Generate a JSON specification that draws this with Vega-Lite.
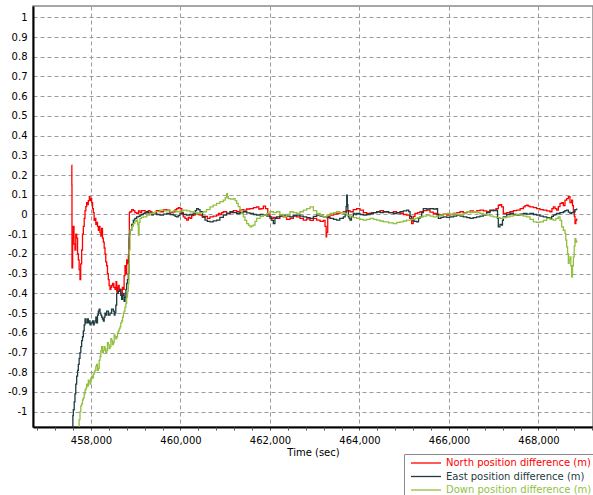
{
  "$schema": "https://vega.github.io/schema/vega-lite/v6.json",
  "width": 560,
  "height": 421,
  "autosize": {"type": "none"},
  "padding": {"left": 33, "top": 6, "right": 0, "bottom": 68},
  "background": "white",
  "view": {"stroke": "#8a8a8a", "strokeWidth": 1.5},
  "config": {"font": "DejaVu Sans", "axis": {"grid": false}},
  "datasets": {
    "rows": [
      {"s":"N","t":457568,"v":0.25},{"s":"N","t":457572,"v":0.15},{"s":"N","t":457575,"v":-0.27},{"s":"N","t":457590,"v":-0.12},{"s":"N","t":457605,"v":-0.06},{"s":"N","t":457620,"v":-0.15},{"s":"N","t":457642,"v":-0.18},{"s":"N","t":457660,"v":-0.10},{"s":"N","t":457680,"v":-0.12},{"s":"N","t":457700,"v":-0.20},{"s":"N","t":457717,"v":-0.23},{"s":"N","t":457735,"v":-0.28},{"s":"N","t":457754,"v":-0.33},{"s":"N","t":457770,"v":-0.25},{"s":"N","t":457791,"v":-0.18},{"s":"N","t":457810,"v":-0.10},{"s":"N","t":457829,"v":-0.06},{"s":"N","t":457848,"v":-0.02},{"s":"N","t":457866,"v":0.02},{"s":"N","t":457885,"v":0.04},{"s":"N","t":457903,"v":0.06},{"s":"N","t":457920,"v":0.05},{"s":"N","t":457940,"v":0.07},{"s":"N","t":457963,"v":0.09},{"s":"N","t":457978,"v":0.07},{"s":"N","t":457995,"v":0.08},{"s":"N","t":458015,"v":0.06},{"s":"N","t":458035,"v":0.03},{"s":"N","t":458052,"v":0.01},{"s":"N","t":458070,"v":-0.03},{"s":"N","t":458089,"v":-0.02},{"s":"N","t":458108,"v":-0.05},{"s":"N","t":458127,"v":-0.04},{"s":"N","t":458145,"v":-0.06},{"s":"N","t":458164,"v":-0.08},{"s":"N","t":458183,"v":-0.06},{"s":"N","t":458201,"v":-0.09},{"s":"N","t":458220,"v":-0.11},{"s":"N","t":458238,"v":-0.07},{"s":"N","t":458257,"v":-0.12},{"s":"N","t":458276,"v":-0.14},{"s":"N","t":458295,"v":-0.17},{"s":"N","t":458313,"v":-0.20},{"s":"N","t":458330,"v":-0.24},{"s":"N","t":458350,"v":-0.26},{"s":"N","t":458368,"v":-0.30},{"s":"N","t":458387,"v":-0.33},{"s":"N","t":458405,"v":-0.36},{"s":"N","t":458425,"v":-0.38},{"s":"N","t":458445,"v":-0.37},{"s":"N","t":458462,"v":-0.36},{"s":"N","t":458484,"v":-0.35},{"s":"N","t":458510,"v":-0.37},{"s":"N","t":458536,"v":-0.38},{"s":"N","t":458560,"v":-0.34},{"s":"N","t":458575,"v":-0.39},{"s":"N","t":458588,"v":-0.40},{"s":"N","t":458600,"v":-0.37},{"s":"N","t":458611,"v":-0.36},{"s":"N","t":458630,"v":-0.39},{"s":"N","t":458648,"v":-0.38},{"s":"N","t":458665,"v":-0.40},{"s":"N","t":458685,"v":-0.42},{"s":"N","t":458700,"v":-0.37},{"s":"N","t":458723,"v":-0.38},{"s":"N","t":458740,"v":-0.31},{"s":"N","t":458760,"v":-0.26},{"s":"N","t":458780,"v":-0.30},{"s":"N","t":458797,"v":-0.23},{"s":"N","t":458815,"v":-0.25},{"s":"N","t":458834,"v":-0.21},{"s":"N","t":458850,"v":-0.12},{"s":"N","t":458857,"v":0.01},{"s":"N","t":458872,"v":0.014},{"s":"N","t":458910,"v":0.025},{"s":"N","t":458946,"v":0.02},{"s":"N","t":458980,"v":0.01},{"s":"N","t":459021,"v":0.005},{"s":"N","t":459060,"v":0.018},{"s":"N","t":459095,"v":0.01},{"s":"N","t":459130,"v":0.02},{"s":"N","t":459170,"v":0.02},{"s":"N","t":459210,"v":0.008},{"s":"N","t":459244,"v":0.01},{"s":"N","t":459280,"v":0.02},{"s":"N","t":459319,"v":0.014},{"s":"N","t":459360,"v":0.0},{"s":"N","t":459393,"v":0.005},{"s":"N","t":459460,"v":0.02},{"s":"N","t":459542,"v":0.014},{"s":"N","t":459620,"v":0.025},{"s":"N","t":459691,"v":0.022},{"s":"N","t":459760,"v":0.01},{"s":"N","t":459840,"v":0.014},{"s":"N","t":459880,"v":0.025},{"s":"N","t":459915,"v":0.03},{"s":"N","t":459950,"v":0.035},{"s":"N","t":459989,"v":0.03},{"s":"N","t":460030,"v":0.01},{"s":"N","t":460063,"v":-0.012},{"s":"N","t":460100,"v":-0.02},{"s":"N","t":460138,"v":-0.029},{"s":"N","t":460175,"v":-0.015},{"s":"N","t":460212,"v":-0.02},{"s":"N","t":460250,"v":-0.005},{"s":"N","t":460287,"v":-0.003},{"s":"N","t":460325,"v":0.01},{"s":"N","t":460361,"v":0.005},{"s":"N","t":460400,"v":0.0},{"s":"N","t":460436,"v":-0.003},{"s":"N","t":460490,"v":-0.015},{"s":"N","t":460548,"v":-0.01},{"s":"N","t":460600,"v":-0.02},{"s":"N","t":460659,"v":-0.012},{"s":"N","t":460730,"v":-0.008},{"s":"N","t":460808,"v":-0.003},{"s":"N","t":460850,"v":0.005},{"s":"N","t":460883,"v":0.0},{"s":"N","t":460920,"v":0.01},{"s":"N","t":460957,"v":0.014},{"s":"N","t":461030,"v":0.005},{"s":"N","t":461106,"v":0.01},{"s":"N","t":461180,"v":0.02},{"s":"N","t":461255,"v":0.014},{"s":"N","t":461330,"v":0.025},{"s":"N","t":461404,"v":0.022},{"s":"N","t":461480,"v":0.028},{"s":"N","t":461553,"v":0.03},{"s":"N","t":461630,"v":0.035},{"s":"N","t":461702,"v":0.039},{"s":"N","t":461750,"v":0.028},{"s":"N","t":461800,"v":0.03},{"s":"N","t":461851,"v":0.042},{"s":"N","t":461900,"v":0.03},{"s":"N","t":461950,"v":0.0},{"s":"N","t":462000,"v":-0.02},{"s":"N","t":462075,"v":-0.015},{"s":"N","t":462149,"v":-0.02},{"s":"N","t":462220,"v":-0.008},{"s":"N","t":462298,"v":-0.012},{"s":"N","t":462370,"v":-0.025},{"s":"N","t":462447,"v":-0.02},{"s":"N","t":462520,"v":-0.008},{"s":"N","t":462596,"v":-0.012},{"s":"N","t":462670,"v":-0.02},{"s":"N","t":462745,"v":-0.029},{"s":"N","t":462820,"v":-0.022},{"s":"N","t":462894,"v":-0.03},{"s":"N","t":462970,"v":-0.02},{"s":"N","t":463043,"v":-0.029},{"s":"N","t":463120,"v":-0.035},{"s":"N","t":463192,"v":-0.03},{"s":"N","t":463230,"v":-0.06},{"s":"N","t":463255,"v":-0.113},{"s":"N","t":463266,"v":-0.09},{"s":"N","t":463290,"v":-0.01},{"s":"N","t":463341,"v":-0.003},{"s":"N","t":463420,"v":0.002},{"s":"N","t":463490,"v":0.005},{"s":"N","t":463560,"v":0.01},{"s":"N","t":463639,"v":0.014},{"s":"N","t":463710,"v":0.02},{"s":"N","t":463788,"v":0.014},{"s":"N","t":463860,"v":0.025},{"s":"N","t":463937,"v":0.03},{"s":"N","t":464011,"v":0.022},{"s":"N","t":464086,"v":0.01},{"s":"N","t":464160,"v":0.005},{"s":"N","t":464270,"v":0.01},{"s":"N","t":464384,"v":0.014},{"s":"N","t":464460,"v":0.02},{"s":"N","t":464533,"v":0.014},{"s":"N","t":464650,"v":0.01},{"s":"N","t":464756,"v":0.014},{"s":"N","t":464830,"v":0.008},{"s":"N","t":464905,"v":0.005},{"s":"N","t":464980,"v":0.0},{"s":"N","t":465054,"v":-0.003},{"s":"N","t":465120,"v":-0.02},{"s":"N","t":465166,"v":-0.046},{"s":"N","t":465200,"v":-0.01},{"s":"N","t":465240,"v":0.005},{"s":"N","t":465300,"v":0.01},{"s":"N","t":465352,"v":0.014},{"s":"N","t":465430,"v":0.02},{"s":"N","t":465501,"v":0.022},{"s":"N","t":465575,"v":0.012},{"s":"N","t":465650,"v":0.005},{"s":"N","t":465720,"v":0.0},{"s":"N","t":465799,"v":-0.003},{"s":"N","t":465870,"v":0.002},{"s":"N","t":465948,"v":-0.003},{"s":"N","t":466020,"v":0.0},{"s":"N","t":466097,"v":0.005},{"s":"N","t":466170,"v":0.01},{"s":"N","t":466246,"v":0.014},{"s":"N","t":466320,"v":0.008},{"s":"N","t":466395,"v":0.014},{"s":"N","t":466470,"v":0.018},{"s":"N","t":466544,"v":0.014},{"s":"N","t":466620,"v":0.02},{"s":"N","t":466693,"v":0.022},{"s":"N","t":466770,"v":0.018},{"s":"N","t":466842,"v":0.014},{"s":"N","t":466916,"v":0.02},{"s":"N","t":466991,"v":0.022},{"s":"N","t":467050,"v":0.03},{"s":"N","t":467102,"v":0.047},{"s":"N","t":467140,"v":0.05},{"s":"N","t":467177,"v":0.039},{"s":"N","t":467214,"v":0.005},{"s":"N","t":467290,"v":0.01},{"s":"N","t":467363,"v":0.014},{"s":"N","t":467440,"v":0.02},{"s":"N","t":467512,"v":0.022},{"s":"N","t":467590,"v":0.03},{"s":"N","t":467661,"v":0.039},{"s":"N","t":467700,"v":0.045},{"s":"N","t":467736,"v":0.047},{"s":"N","t":467770,"v":0.042},{"s":"N","t":467810,"v":0.039},{"s":"N","t":467885,"v":0.035},{"s":"N","t":467959,"v":0.03},{"s":"N","t":468034,"v":0.025},{"s":"N","t":468108,"v":0.022},{"s":"N","t":468183,"v":0.018},{"s":"N","t":468257,"v":0.014},{"s":"N","t":468300,"v":0.03},{"s":"N","t":468332,"v":0.039},{"s":"N","t":468370,"v":0.03},{"s":"N","t":468406,"v":0.022},{"s":"N","t":468443,"v":0.04},{"s":"N","t":468481,"v":0.056},{"s":"N","t":468520,"v":0.06},{"s":"N","t":468555,"v":0.045},{"s":"N","t":468592,"v":0.073},{"s":"N","t":468630,"v":0.08},{"s":"N","t":468667,"v":0.09},{"s":"N","t":468704,"v":0.06},{"s":"N","t":468741,"v":0.073},{"s":"N","t":468760,"v":0.045},{"s":"N","t":468779,"v":0.022},{"s":"N","t":468800,"v":-0.01},{"s":"N","t":468816,"v":-0.046},{"s":"N","t":468835,"v":-0.03},{"s":"N","t":468853,"v":-0.02},
      {"s":"E","t":457583,"v":-1.12},{"s":"E","t":457595,"v":-1.02},{"s":"E","t":457605,"v":-0.99},{"s":"E","t":457625,"v":-0.95},{"s":"E","t":457642,"v":-0.91},{"s":"E","t":457660,"v":-0.86},{"s":"E","t":457680,"v":-0.82},{"s":"E","t":457700,"v":-0.79},{"s":"E","t":457717,"v":-0.76},{"s":"E","t":457735,"v":-0.73},{"s":"E","t":457754,"v":-0.70},{"s":"E","t":457772,"v":-0.67},{"s":"E","t":457791,"v":-0.64},{"s":"E","t":457810,"v":-0.62},{"s":"E","t":457829,"v":-0.59},{"s":"E","t":457848,"v":-0.56},{"s":"E","t":457866,"v":-0.53},{"s":"E","t":457885,"v":-0.55},{"s":"E","t":457903,"v":-0.55},{"s":"E","t":457920,"v":-0.53},{"s":"E","t":457940,"v":-0.55},{"s":"E","t":457960,"v":-0.54},{"s":"E","t":457978,"v":-0.56},{"s":"E","t":457995,"v":-0.55},{"s":"E","t":458015,"v":-0.55},{"s":"E","t":458035,"v":-0.54},{"s":"E","t":458052,"v":-0.56},{"s":"E","t":458070,"v":-0.55},{"s":"E","t":458089,"v":-0.54},{"s":"E","t":458108,"v":-0.52},{"s":"E","t":458127,"v":-0.55},{"s":"E","t":458145,"v":-0.51},{"s":"E","t":458164,"v":-0.49},{"s":"E","t":458183,"v":-0.48},{"s":"E","t":458201,"v":-0.50},{"s":"E","t":458220,"v":-0.51},{"s":"E","t":458238,"v":-0.52},{"s":"E","t":458257,"v":-0.53},{"s":"E","t":458276,"v":-0.54},{"s":"E","t":458295,"v":-0.52},{"s":"E","t":458313,"v":-0.50},{"s":"E","t":458330,"v":-0.51},{"s":"E","t":458350,"v":-0.49},{"s":"E","t":458390,"v":-0.51},{"s":"E","t":458425,"v":-0.50},{"s":"E","t":458460,"v":-0.48},{"s":"E","t":458499,"v":-0.49},{"s":"E","t":458520,"v":-0.51},{"s":"E","t":458536,"v":-0.50},{"s":"E","t":458555,"v":-0.46},{"s":"E","t":458574,"v":-0.40},{"s":"E","t":458610,"v":-0.39},{"s":"E","t":458648,"v":-0.38},{"s":"E","t":458665,"v":-0.41},{"s":"E","t":458685,"v":-0.43},{"s":"E","t":458705,"v":-0.41},{"s":"E","t":458723,"v":-0.40},{"s":"E","t":458740,"v":-0.44},{"s":"E","t":458760,"v":-0.42},{"s":"E","t":458780,"v":-0.38},{"s":"E","t":458797,"v":-0.35},{"s":"E","t":458815,"v":-0.33},{"s":"E","t":458834,"v":-0.30},{"s":"E","t":458850,"v":-0.22},{"s":"E","t":458857,"v":-0.10},{"s":"E","t":458872,"v":-0.079},{"s":"E","t":458910,"v":-0.05},{"s":"E","t":458946,"v":-0.029},{"s":"E","t":458980,"v":-0.02},{"s":"E","t":459021,"v":-0.012},{"s":"E","t":459060,"v":-0.01},{"s":"E","t":459095,"v":-0.003},{"s":"E","t":459130,"v":0.0},{"s":"E","t":459170,"v":0.005},{"s":"E","t":459210,"v":0.01},{"s":"E","t":459244,"v":0.014},{"s":"E","t":459280,"v":0.008},{"s":"E","t":459319,"v":0.005},{"s":"E","t":459360,"v":-0.002},{"s":"E","t":459393,"v":0.005},{"s":"E","t":459470,"v":0.0},{"s":"E","t":459542,"v":-0.003},{"s":"E","t":459620,"v":0.002},{"s":"E","t":459691,"v":0.005},{"s":"E","t":459770,"v":0.0},{"s":"E","t":459840,"v":-0.003},{"s":"E","t":459880,"v":-0.01},{"s":"E","t":459915,"v":-0.012},{"s":"E","t":459950,"v":-0.005},{"s":"E","t":459989,"v":0.005},{"s":"E","t":460060,"v":0.0},{"s":"E","t":460138,"v":-0.003},{"s":"E","t":460210,"v":0.0},{"s":"E","t":460287,"v":0.005},{"s":"E","t":460330,"v":0.02},{"s":"E","t":460361,"v":0.03},{"s":"E","t":460400,"v":0.025},{"s":"E","t":460436,"v":0.014},{"s":"E","t":460490,"v":-0.01},{"s":"E","t":460548,"v":-0.029},{"s":"E","t":460600,"v":-0.035},{"s":"E","t":460659,"v":-0.037},{"s":"E","t":460730,"v":-0.032},{"s":"E","t":460808,"v":-0.029},{"s":"E","t":460880,"v":-0.015},{"s":"E","t":460957,"v":-0.003},{"s":"E","t":461030,"v":0.005},{"s":"E","t":461106,"v":0.014},{"s":"E","t":461180,"v":0.01},{"s":"E","t":461255,"v":0.005},{"s":"E","t":461330,"v":0.01},{"s":"E","t":461404,"v":0.014},{"s":"E","t":461480,"v":0.008},{"s":"E","t":461553,"v":0.005},{"s":"E","t":461630,"v":0.0},{"s":"E","t":461702,"v":-0.003},{"s":"E","t":461780,"v":0.0},{"s":"E","t":461851,"v":-0.003},{"s":"E","t":461930,"v":-0.008},{"s":"E","t":462000,"v":-0.012},{"s":"E","t":462040,"v":-0.03},{"s":"E","t":462075,"v":-0.046},{"s":"E","t":462110,"v":-0.02},{"s":"E","t":462149,"v":-0.012},{"s":"E","t":462220,"v":-0.008},{"s":"E","t":462298,"v":-0.003},{"s":"E","t":462370,"v":-0.008},{"s":"E","t":462447,"v":-0.012},{"s":"E","t":462520,"v":-0.006},{"s":"E","t":462596,"v":-0.003},{"s":"E","t":462670,"v":-0.008},{"s":"E","t":462745,"v":-0.012},{"s":"E","t":462820,"v":-0.016},{"s":"E","t":462894,"v":-0.02},{"s":"E","t":462970,"v":-0.01},{"s":"E","t":463043,"v":-0.003},{"s":"E","t":463120,"v":-0.008},{"s":"E","t":463192,"v":-0.012},{"s":"E","t":463270,"v":-0.016},{"s":"E","t":463341,"v":-0.02},{"s":"E","t":463420,"v":-0.025},{"s":"E","t":463490,"v":-0.029},{"s":"E","t":463560,"v":-0.02},{"s":"E","t":463639,"v":-0.012},{"s":"E","t":463680,"v":0.0},{"s":"E","t":463700,"v":0.04},{"s":"E","t":463714,"v":0.098},{"s":"E","t":463728,"v":0.05},{"s":"E","t":463740,"v":0.02},{"s":"E","t":463751,"v":-0.012},{"s":"E","t":463770,"v":-0.02},{"s":"E","t":463788,"v":-0.029},{"s":"E","t":463820,"v":-0.01},{"s":"E","t":463862,"v":0.005},{"s":"E","t":463900,"v":0.0},{"s":"E","t":463937,"v":0.005},{"s":"E","t":464010,"v":0.0},{"s":"E","t":464086,"v":-0.003},{"s":"E","t":464160,"v":0.0},{"s":"E","t":464235,"v":0.005},{"s":"E","t":464310,"v":0.01},{"s":"E","t":464384,"v":0.014},{"s":"E","t":464460,"v":0.01},{"s":"E","t":464533,"v":0.014},{"s":"E","t":464650,"v":0.01},{"s":"E","t":464756,"v":0.005},{"s":"E","t":464830,"v":0.01},{"s":"E","t":464905,"v":0.014},{"s":"E","t":464980,"v":0.018},{"s":"E","t":465054,"v":0.022},{"s":"E","t":465100,"v":0.015},{"s":"E","t":465130,"v":-0.01},{"s":"E","t":465166,"v":-0.029},{"s":"E","t":465220,"v":-0.035},{"s":"E","t":465277,"v":-0.037},{"s":"E","t":465320,"v":-0.02},{"s":"E","t":465352,"v":-0.012},{"s":"E","t":465390,"v":0.01},{"s":"E","t":465426,"v":0.03},{"s":"E","t":465500,"v":0.028},{"s":"E","t":465575,"v":0.03},{"s":"E","t":465650,"v":0.028},{"s":"E","t":465724,"v":0.03},{"s":"E","t":465745,"v":0.0},{"s":"E","t":465762,"v":-0.02},{"s":"E","t":465820,"v":-0.015},{"s":"E","t":465873,"v":-0.012},{"s":"E","t":465948,"v":-0.015},{"s":"E","t":466022,"v":-0.012},{"s":"E","t":466100,"v":-0.008},{"s":"E","t":466171,"v":-0.003},{"s":"E","t":466250,"v":-0.008},{"s":"E","t":466320,"v":-0.012},{"s":"E","t":466400,"v":-0.016},{"s":"E","t":466469,"v":-0.02},{"s":"E","t":466540,"v":-0.016},{"s":"E","t":466618,"v":-0.012},{"s":"E","t":466690,"v":-0.008},{"s":"E","t":466767,"v":-0.003},{"s":"E","t":466840,"v":0.01},{"s":"E","t":466916,"v":0.022},{"s":"E","t":466990,"v":0.02},{"s":"E","t":467065,"v":0.022},{"s":"E","t":467085,"v":-0.02},{"s":"E","t":467102,"v":-0.063},{"s":"E","t":467140,"v":-0.05},{"s":"E","t":467177,"v":-0.054},{"s":"E","t":467195,"v":-0.03},{"s":"E","t":467214,"v":-0.012},{"s":"E","t":467290,"v":0.0},{"s":"E","t":467363,"v":0.005},{"s":"E","t":467440,"v":0.0},{"s":"E","t":467512,"v":-0.003},{"s":"E","t":467590,"v":0.002},{"s":"E","t":467661,"v":0.005},{"s":"E","t":467740,"v":0.002},{"s":"E","t":467810,"v":0.005},{"s":"E","t":467885,"v":0.0},{"s":"E","t":467959,"v":-0.003},{"s":"E","t":468034,"v":-0.008},{"s":"E","t":468108,"v":-0.012},{"s":"E","t":468183,"v":-0.016},{"s":"E","t":468257,"v":-0.02},{"s":"E","t":468295,"v":-0.01},{"s":"E","t":468332,"v":-0.003},{"s":"E","t":468370,"v":0.0},{"s":"E","t":468406,"v":0.005},{"s":"E","t":468480,"v":0.01},{"s":"E","t":468555,"v":0.014},{"s":"E","t":468590,"v":0.02},{"s":"E","t":468630,"v":0.022},{"s":"E","t":468667,"v":0.012},{"s":"E","t":468704,"v":0.005},{"s":"E","t":468740,"v":0.01},{"s":"E","t":468779,"v":0.014},{"s":"E","t":468816,"v":0.025},{"s":"E","t":468853,"v":0.03},
      {"s":"D","t":457717,"v":-1.12},{"s":"D","t":457735,"v":-1.04},{"s":"D","t":457754,"v":-1.0},{"s":"D","t":457772,"v":-0.97},{"s":"D","t":457791,"v":-0.96},{"s":"D","t":457810,"v":-0.94},{"s":"D","t":457829,"v":-0.93},{"s":"D","t":457848,"v":-0.91},{"s":"D","t":457866,"v":-0.89},{"s":"D","t":457885,"v":-0.88},{"s":"D","t":457903,"v":-0.86},{"s":"D","t":457920,"v":-0.87},{"s":"D","t":457940,"v":-0.84},{"s":"D","t":457960,"v":-0.85},{"s":"D","t":457978,"v":-0.86},{"s":"D","t":457995,"v":-0.83},{"s":"D","t":458015,"v":-0.82},{"s":"D","t":458035,"v":-0.83},{"s":"D","t":458052,"v":-0.81},{"s":"D","t":458070,"v":-0.80},{"s":"D","t":458089,"v":-0.79},{"s":"D","t":458108,"v":-0.77},{"s":"D","t":458127,"v":-0.76},{"s":"D","t":458145,"v":-0.79},{"s":"D","t":458164,"v":-0.78},{"s":"D","t":458183,"v":-0.74},{"s":"D","t":458201,"v":-0.72},{"s":"D","t":458220,"v":-0.69},{"s":"D","t":458238,"v":-0.67},{"s":"D","t":458257,"v":-0.70},{"s":"D","t":458276,"v":-0.69},{"s":"D","t":458295,"v":-0.67},{"s":"D","t":458313,"v":-0.68},{"s":"D","t":458330,"v":-0.70},{"s":"D","t":458350,"v":-0.69},{"s":"D","t":458368,"v":-0.65},{"s":"D","t":458387,"v":-0.66},{"s":"D","t":458405,"v":-0.68},{"s":"D","t":458425,"v":-0.67},{"s":"D","t":458445,"v":-0.63},{"s":"D","t":458462,"v":-0.64},{"s":"D","t":458480,"v":-0.66},{"s":"D","t":458499,"v":-0.65},{"s":"D","t":458518,"v":-0.61},{"s":"D","t":458536,"v":-0.62},{"s":"D","t":458555,"v":-0.63},{"s":"D","t":458574,"v":-0.62},{"s":"D","t":458592,"v":-0.60},{"s":"D","t":458611,"v":-0.59},{"s":"D","t":458630,"v":-0.58},{"s":"D","t":458648,"v":-0.57},{"s":"D","t":458665,"v":-0.55},{"s":"D","t":458685,"v":-0.54},{"s":"D","t":458705,"v":-0.52},{"s":"D","t":458723,"v":-0.50},{"s":"D","t":458740,"v":-0.49},{"s":"D","t":458760,"v":-0.47},{"s":"D","t":458780,"v":-0.45},{"s":"D","t":458797,"v":-0.42},{"s":"D","t":458815,"v":-0.39},{"s":"D","t":458834,"v":-0.35},{"s":"D","t":458848,"v":-0.25},{"s":"D","t":458857,"v":-0.18},{"s":"D","t":458872,"v":-0.079},{"s":"D","t":458910,"v":-0.06},{"s":"D","t":458946,"v":-0.046},{"s":"D","t":458980,"v":-0.035},{"s":"D","t":459021,"v":-0.029},{"s":"D","t":459040,"v":-0.05},{"s":"D","t":459058,"v":-0.105},{"s":"D","t":459075,"v":-0.04},{"s":"D","t":459095,"v":-0.02},{"s":"D","t":459130,"v":-0.015},{"s":"D","t":459170,"v":-0.012},{"s":"D","t":459245,"v":-0.003},{"s":"D","t":459319,"v":0.005},{"s":"D","t":459430,"v":0.015},{"s":"D","t":459542,"v":0.022},{"s":"D","t":459650,"v":0.018},{"s":"D","t":459766,"v":0.014},{"s":"D","t":459840,"v":0.02},{"s":"D","t":459915,"v":0.014},{"s":"D","t":459990,"v":0.018},{"s":"D","t":460063,"v":0.022},{"s":"D","t":460140,"v":0.018},{"s":"D","t":460212,"v":0.014},{"s":"D","t":460290,"v":0.01},{"s":"D","t":460361,"v":0.005},{"s":"D","t":460436,"v":0.01},{"s":"D","t":460510,"v":0.014},{"s":"D","t":460580,"v":0.025},{"s":"D","t":460659,"v":0.039},{"s":"D","t":460730,"v":0.048},{"s":"D","t":460808,"v":0.056},{"s":"D","t":460880,"v":0.065},{"s":"D","t":460957,"v":0.073},{"s":"D","t":461000,"v":0.085},{"s":"D","t":461032,"v":0.106},{"s":"D","t":461050,"v":0.09},{"s":"D","t":461069,"v":0.081},{"s":"D","t":461120,"v":0.078},{"s":"D","t":461181,"v":0.081},{"s":"D","t":461220,"v":0.07},{"s":"D","t":461255,"v":0.056},{"s":"D","t":461290,"v":0.04},{"s":"D","t":461330,"v":0.022},{"s":"D","t":461370,"v":0.005},{"s":"D","t":461404,"v":-0.012},{"s":"D","t":461440,"v":-0.03},{"s":"D","t":461479,"v":-0.046},{"s":"D","t":461520,"v":-0.055},{"s":"D","t":461553,"v":-0.063},{"s":"D","t":461590,"v":-0.058},{"s":"D","t":461628,"v":-0.054},{"s":"D","t":461665,"v":-0.035},{"s":"D","t":461702,"v":-0.02},{"s":"D","t":461780,"v":-0.01},{"s":"D","t":461851,"v":-0.003},{"s":"D","t":461930,"v":0.005},{"s":"D","t":462000,"v":0.014},{"s":"D","t":462075,"v":0.01},{"s":"D","t":462149,"v":0.014},{"s":"D","t":462220,"v":0.0},{"s":"D","t":462298,"v":-0.012},{"s":"D","t":462370,"v":0.0},{"s":"D","t":462447,"v":0.014},{"s":"D","t":462520,"v":0.01},{"s":"D","t":462596,"v":0.005},{"s":"D","t":462670,"v":0.014},{"s":"D","t":462745,"v":0.022},{"s":"D","t":462820,"v":0.03},{"s":"D","t":462894,"v":0.039},{"s":"D","t":462970,"v":0.02},{"s":"D","t":463043,"v":0.005},{"s":"D","t":463120,"v":-0.005},{"s":"D","t":463192,"v":-0.012},{"s":"D","t":463270,"v":-0.003},{"s":"D","t":463341,"v":0.005},{"s":"D","t":463420,"v":0.01},{"s":"D","t":463490,"v":0.014},{"s":"D","t":463560,"v":0.01},{"s":"D","t":463639,"v":0.005},{"s":"D","t":463710,"v":-0.003},{"s":"D","t":463788,"v":-0.012},{"s":"D","t":463860,"v":-0.016},{"s":"D","t":463937,"v":-0.02},{"s":"D","t":464010,"v":-0.025},{"s":"D","t":464086,"v":-0.029},{"s":"D","t":464160,"v":-0.025},{"s":"D","t":464235,"v":-0.02},{"s":"D","t":464310,"v":-0.025},{"s":"D","t":464384,"v":-0.029},{"s":"D","t":464460,"v":-0.033},{"s":"D","t":464533,"v":-0.037},{"s":"D","t":464650,"v":-0.042},{"s":"D","t":464756,"v":-0.046},{"s":"D","t":464830,"v":-0.04},{"s":"D","t":464905,"v":-0.037},{"s":"D","t":464980,"v":-0.033},{"s":"D","t":465054,"v":-0.029},{"s":"D","t":465150,"v":-0.025},{"s":"D","t":465240,"v":-0.02},{"s":"D","t":465300,"v":-0.016},{"s":"D","t":465352,"v":-0.012},{"s":"D","t":465430,"v":-0.008},{"s":"D","t":465501,"v":-0.003},{"s":"D","t":465575,"v":-0.008},{"s":"D","t":465650,"v":-0.012},{"s":"D","t":465720,"v":-0.008},{"s":"D","t":465799,"v":-0.003},{"s":"D","t":465870,"v":0.002},{"s":"D","t":465948,"v":0.005},{"s":"D","t":466020,"v":0.0},{"s":"D","t":466097,"v":0.005},{"s":"D","t":466170,"v":0.0},{"s":"D","t":466246,"v":-0.003},{"s":"D","t":466320,"v":0.005},{"s":"D","t":466395,"v":0.014},{"s":"D","t":466470,"v":0.01},{"s":"D","t":466544,"v":0.014},{"s":"D","t":466620,"v":0.01},{"s":"D","t":466693,"v":0.005},{"s":"D","t":466770,"v":0.0},{"s":"D","t":466842,"v":-0.003},{"s":"D","t":466916,"v":-0.008},{"s":"D","t":466991,"v":-0.012},{"s":"D","t":467065,"v":-0.016},{"s":"D","t":467140,"v":-0.02},{"s":"D","t":467214,"v":-0.016},{"s":"D","t":467289,"v":-0.012},{"s":"D","t":467360,"v":-0.008},{"s":"D","t":467438,"v":-0.003},{"s":"D","t":467512,"v":0.0},{"s":"D","t":467587,"v":-0.003},{"s":"D","t":467660,"v":-0.008},{"s":"D","t":467736,"v":-0.012},{"s":"D","t":467810,"v":-0.025},{"s":"D","t":467885,"v":-0.037},{"s":"D","t":467959,"v":-0.04},{"s":"D","t":468034,"v":-0.037},{"s":"D","t":468108,"v":-0.03},{"s":"D","t":468183,"v":-0.02},{"s":"D","t":468257,"v":-0.025},{"s":"D","t":468332,"v":-0.029},{"s":"D","t":468390,"v":-0.02},{"s":"D","t":468443,"v":-0.012},{"s":"D","t":468481,"v":-0.03},{"s":"D","t":468518,"v":-0.063},{"s":"D","t":468555,"v":-0.08},{"s":"D","t":468592,"v":-0.096},{"s":"D","t":468610,"v":-0.13},{"s":"D","t":468630,"v":-0.164},{"s":"D","t":468650,"v":-0.2},{"s":"D","t":468667,"v":-0.248},{"s":"D","t":468685,"v":-0.23},{"s":"D","t":468704,"v":-0.215},{"s":"D","t":468722,"v":-0.26},{"s":"D","t":468741,"v":-0.316},{"s":"D","t":468760,"v":-0.26},{"s":"D","t":468779,"v":-0.215},{"s":"D","t":468798,"v":-0.16},{"s":"D","t":468816,"v":-0.122},{"s":"D","t":468835,"v":-0.14},{"s":"D","t":468853,"v":-0.13}
    ]
  },
  "data": {"name": "rows"},
  "resolve": {"axis": {"x": "independent"}},
  "layer": [
    {
      "mark": {"type": "line", "clip": true, "strokeWidth": 1.3, "interpolate": "step-after"},
      "encoding": {
        "x": {
          "field": "t", "type": "quantitative",
          "scale": {"domain": [456704, 469218], "nice": false, "zero": false},
          "axis": {
            "orient": "bottom",
            "title": "Time (sec)",
            "titleFont": "DejaVu Sans", "titleFontSize": 10, "titleFontWeight": "normal", "titleColor": "#000000", "titlePadding": 2,
            "values": [458000, 460000, 462000, 464000, 466000, 468000],
            "format": ",d",
            "labelFont": "DejaVu Sans", "labelFontSize": 10, "labelColor": "#000000", "labelPadding": 5, "labelOverlap": false,
            "domainColor": "#000000", "domainWidth": 2,
            "ticks": true, "tickColor": "#555555", "tickSize": 3, "tickWidth": 1,
            "grid": true,
            "gridColor": "#9a9a9a", "gridDash": [4, 3], "gridWidth": 1
          }
        },
        "y": {
          "field": "v", "type": "quantitative",
          "scale": {"domain": [-1.0776, 1.0573], "nice": false, "zero": false},
          "axis": {
            "title": null,
            "values": [-1,-0.9,-0.8,-0.7,-0.6,-0.5,-0.4,-0.3,-0.2,-0.1,0,0.1,0.2,0.3,0.4,0.5,0.6,0.7,0.8,0.9,1],
            "labelExpr": "'' + datum.value",
            "labelFont": "DejaVu Sans", "labelFontSize": 10, "labelColor": "#000000", "labelPadding": 6,
            "ticks": false,
            "domainColor": "#000000", "domainWidth": 2,
            "grid": true, "gridColor": "#9a9a9a", "gridDash": [4, 3], "gridWidth": 1
          }
        },
        "color": {
          "field": "s", "type": "nominal",
          "scale": {"domain": ["N", "E", "D"], "range": ["#ff0000", "#1e3b3f", "#93bf3f"]},
          "legend": {
            "orient": "none", "legendX": 371, "legendY": 448,
            "title": null,
            "direction": "vertical",
            "labelExpr": "datum.label == 'N' ? 'North position difference (m)' : datum.label == 'E' ? 'East position difference (m)' : 'Down position difference (m)'",
            "labelFont": "DejaVu Sans", "labelFontSize": 10, "labelOffset": 14,
            "symbolType": "M-3,0H3", "symbolSize": 100, "symbolStrokeWidth": 1.3, "symbolOffset": 13,
            "rowPadding": 2.5, "padding": 3,
            "strokeColor": "#8a8a8a", "fillColor": "#ffffff",
            "encode": {"labels": {"update": {"fill": {"signal": "scale('color', datum.value)"}}}}
          }
        }
      }
    },
    {
      "mark": {"type": "rule", "opacity": 0},
      "encoding": {
        "x": {
          "field": "t", "type": "quantitative",
          "axis": {
            "orient": "bottom",
            "title": null,
            "values": [456800,457200,457600,458400,458800,459200,459600,460400,460800,461200,461600,462400,462800,463200,463600,464400,464800,465200,465600,466400,466800,467200,467600,468400,468800,469200],
            "labels": false,
            "domain": false,
            "grid": false,
            "ticks": true, "tickColor": "#555555", "tickSize": 3, "tickWidth": 1
          }
        }
      }
    }
  ]
}
